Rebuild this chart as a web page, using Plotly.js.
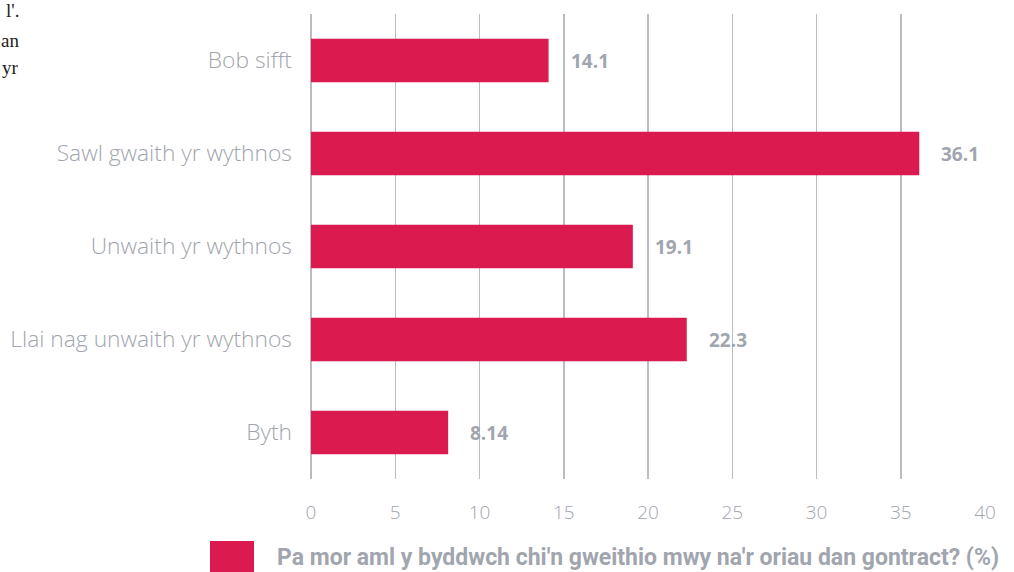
<!DOCTYPE html>
<html>
<head>
<meta charset="utf-8">
<script src="https://cdn.plot.ly/plotly-3.0.1.min.js"></script>
<style>html,body{margin:0;padding:0;background:#fff;overflow:hidden}#chart{width:1014px;height:572px}</style>
</head>
<body>
<div id="chart"></div>
<script>
const categories = ["Bob sifft", "Sawl gwaith yr wythnos", "Unwaith yr wythnos", "Llai nag unwaith yr wythnos", "Byth"];
const values = [14.1, 36.1, 19.1, 22.3, 8.14];
const valueLabels = ["14.1", "36.1", "19.1", "22.3", "8.14"];
const xTicks = [0, 5, 10, 15, 20, 25, 30, 35, 40];
const seriesName = "Pa mor aml y byddwch chi'n gweithio mwy na'r oriau dan gontract? (%)";
const sideText = ["l'.", "an", "yr"];

const W = 1014, H = 572;
const mL = 311, mR = 29, mT = 14, mB = 93;
const pw = W - mL - mR, ph = H - mT - mB;
const px = x => (x - mL) / pw;
const py = y => (H - mB - y) / ph;

const red = "#db1b4f";
const grey = "#a1a5ae";

const trace = {
  type: "bar",
  orientation: "h",
  x: values,
  y: categories,
  name: seriesName,
  marker: {color: red},
  width: 0.47,
  hoverinfo: "none"
};

const annotations = values.map((v, i) => ({
  xref: "x", yref: "y",
  x: v, y: categories[i],
  xanchor: "left", yanchor: "middle",
  xshift: 20,
  text: valueLabels[i], showarrow: false,
  font: {family: "Open Sans", size: 19, color: grey, weight: 700}
}));

annotations.push({
  xref: "paper", yref: "paper",
  x: px(275), y: py(557),
  xanchor: "left", yanchor: "middle",
  text: seriesName, showarrow: false,
  font: {family: "Roboto, sans-serif", size: 23, color: grey, weight: 700}
});
sideText.forEach((t, i) => {
  annotations.push({
    xref: "paper", yref: "paper",
    x: px(21), y: py([10, 40, 68][i]),
    xanchor: "right", yanchor: "middle",
    text: t, showarrow: false,
    font: {family: "Liberation Serif, serif", size: 19, color: "#222"}
  });
});

const layout = {
  width: W, height: H,
  margin: {l: mL, r: mR, t: mT, b: mB, pad: 0},
  paper_bgcolor: "#fff", plot_bgcolor: "#fff",
  showlegend: false,
  xaxis: {
    range: [0, 40],
    tickvals: xTicks,
    ticktext: xTicks.map(String),
    showgrid: true, gridcolor: "#b9bcc3", gridwidth: 1.5,
    zeroline: true, zerolinecolor: "#b9bcc3", zerolinewidth: 1.5,
    showline: false, ticks: "",
    ticklabelstandoff: 20,
    tickfont: {family: "Open Sans", size: 19, color: grey, weight: 300},
    fixedrange: true
  },
  yaxis: {
    autorange: "reversed",
    range: [-0.5, 4.5],
    showgrid: false, zeroline: false, showline: false, ticks: "",
    ticklabelstandoff: 18,
    tickfont: {family: "Open Sans", size: 22.8, color: grey, weight: 300},
    fixedrange: true
  },
  annotations: annotations,
  shapes: [{
    type: "rect", xref: "paper", yref: "paper",
    x0: px(210), x1: px(254), y0: py(541), y1: py(578),
    fillcolor: red, line: {width: 0}
  }]
};

Plotly.newPlot("chart", [trace], layout, {staticPlot: true, displayModeBar: false});
</script>
</body>
</html>
